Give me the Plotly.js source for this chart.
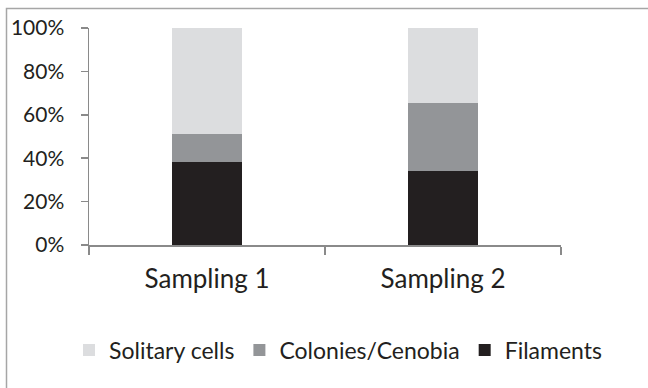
<!DOCTYPE html>
<html>
<head>
<meta charset="utf-8">
<script src="https://cdn.plot.ly/plotly-3.0.1.min.js"></script>
<style>
html,body{margin:0;padding:0;background:#fff;}
#chart{width:648px;height:388px;}
</style>
</head>
<body>
<div id="chart"></div>
<script>
const categories = ["Sampling 1", "Sampling 2"];
const filaments = [0.382, 0.342];
const colonies = [0.130, 0.312];
const solitary = [0.488, 0.346];
const seriesNames = ["Filaments", "Colonies/Cenobia", "Solitary cells"];
const seriesColors = ["#231f20", "#939598", "#dcdddf"];
const yTickVals = [0, 0.2, 0.4, 0.6, 0.8, 1.0];

const seriesValues = [filaments, colonies, solitary];
const traces = seriesValues.map((vals, i) => ({
  type: 'bar',
  name: seriesNames[i],
  x: categories,
  y: vals,
  marker: {color: seriesColors[i], line: {width: 0}},
  hoverinfo: 'skip'
}));

const fontFam = 'Lato, "Open Sans", sans-serif';
const axisCol = '#8a8a8a';

const L = 89, R = 87, T = 28, B = 143, W = 648, H = 388;
const pw = W - L - R, ph = H - T - B;
const px = p => (p - L) / pw;
const py = p => (H - B - p) / ph;

const layout = {
  width: W, height: H,
  margin: {l: L, r: R, t: T, b: B, pad: 0, autoexpand: false},
  paper_bgcolor: '#ffffff',
  plot_bgcolor: '#ffffff',
  barmode: 'stack',
  bargap: 0.705,
  showlegend: true,
  font: {family: fontFam, color: '#231f20'},
  xaxis: {
    type: 'category',
    showgrid: false,
    zeroline: false,
    showline: true,
    linecolor: axisCol,
    linewidth: 1.5,
    ticks: 'outside',
    tickson: 'boundaries',
    ticklen: 8,
    tickcolor: axisCol,
    tickwidth: 1.5,
    tickfont: {family: fontFam, size: 26, color: '#231f20'},
    ticklabelstandoff: 10,
    fixedrange: true
  },
  yaxis: {
    range: [0, 1],
    tickvals: yTickVals,
    tickformat: '.0%',
    showgrid: false,
    zeroline: false,
    showline: true,
    linecolor: axisCol,
    linewidth: 1.5,
    ticks: 'outside',
    ticklen: 7,
    tickcolor: axisCol,
    tickwidth: 1.5,
    tickfont: {family: fontFam, size: 21, color: '#231f20'},
    ticklabelstandoff: 12,
    fixedrange: true
  },
  legend: {
    orientation: 'h',
    traceorder: 'reversed',
    xref: 'paper', yref: 'paper',
    x: px(69), xanchor: 'left',
    y: py(350), yanchor: 'middle',
    font: {family: fontFam, size: 23, color: '#231f20'},
    bgcolor: 'rgba(0,0,0,0)',
    borderwidth: 0
  },
  shapes: [{
    type: 'path', xref: 'paper', yref: 'paper',
    path: `M ${px(6.5)} ${py(400)} L ${px(6.5)} ${py(8.5)} L ${px(700)} ${py(8.5)}`,
    line: {color: '#a6a6a6', width: 1.5}
  }]
};

Plotly.newPlot('chart', traces, layout, {staticPlot: true, displayModeBar: false});
</script>
</body>
</html>
